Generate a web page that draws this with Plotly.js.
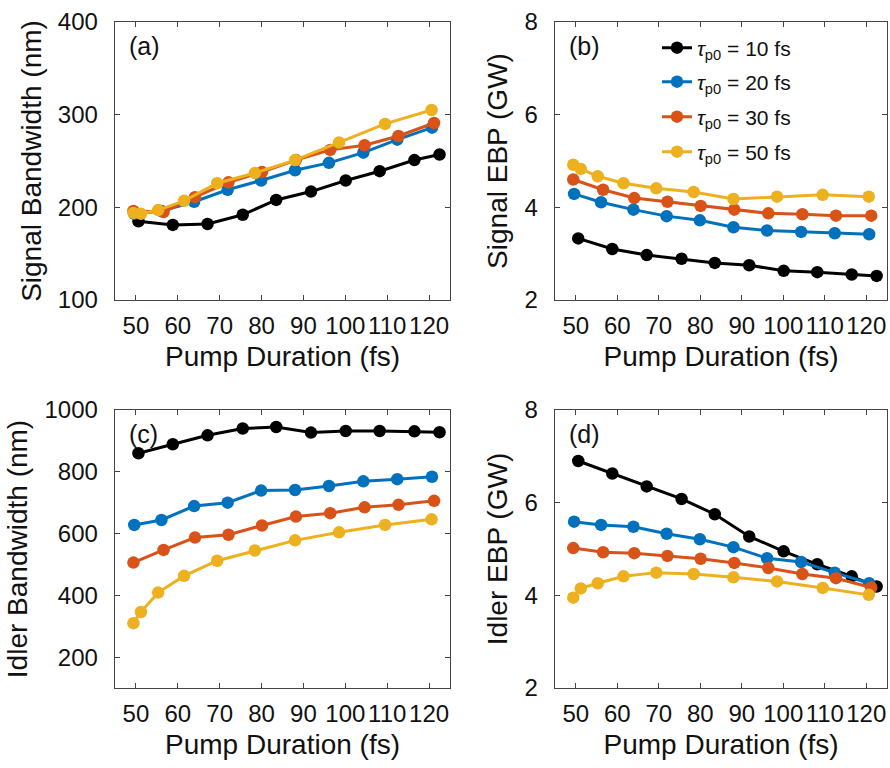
<!DOCTYPE html>
<html>
<head>
<meta charset="utf-8">
<script src="https://cdn.plot.ly/plotly-3.0.1.min.js"></script>
<style>html,body{margin:0;padding:0;background:#fff;}#chart{width:890px;height:768px;}</style>
</head>
<body>
<div id="chart"></div>
<script>
// Pump duration (fs) sample positions for each series
const xTau10 = [50.6, 58.8, 67.1, 75.5, 83.5, 91.8, 100.1, 108.2, 116.5, 122.5];
const xTau20 = [49.6, 56.1, 63.9, 71.9, 79.9, 88.0, 96.1, 104.3, 112.4, 120.7];
const xTau30 = [49.4, 56.6, 64.1, 72.1, 80.1, 88.2, 96.4, 104.6, 112.7, 121.2];
const xTau50 = [49.4, 51.2, 55.3, 61.5, 69.4, 78.4, 88.0, 98.5, 109.5, 120.6];

// (a) Signal bandwidth (nm)
const sigBW10 = [185, 181, 182, 192, 208, 217, 229, 239, 251, 257];
const sigBW20 = [193, 196, 206, 219, 229, 240, 248, 259, 273, 286];
const sigBW30 = [196, 195, 211, 227, 238, 251, 262, 267, 277, 291];
const sigBW50 = [194, 193, 197, 207, 226, 237, 251, 270, 290, 305];

// (b) Signal EBP (GW)
const sigEBP10 = [3.33, 3.10, 2.97, 2.89, 2.80, 2.75, 2.63, 2.60, 2.55, 2.52];
const sigEBP20 = [4.29, 4.11, 3.95, 3.81, 3.72, 3.57, 3.50, 3.47, 3.44, 3.42];
const sigEBP30 = [4.60, 4.38, 4.20, 4.12, 4.03, 3.95, 3.87, 3.85, 3.82, 3.82];
const sigEBP50 = [4.92, 4.83, 4.67, 4.52, 4.41, 4.33, 4.18, 4.23, 4.27, 4.23];

// (c) Idler bandwidth (nm)
const idlBW10 = [860, 889, 918, 940, 945, 927, 932, 932, 931, 928];
const idlBW20 = [628, 644, 689, 700, 739, 741, 754, 769, 776, 784];
const idlBW30 = [506, 547, 587, 596, 626, 655, 666, 685, 693, 706];
const idlBW50 = [310, 346, 409, 463, 512, 545, 578, 604, 628, 646];

// (d) Idler EBP (GW)
const idlEBP10 = [6.90, 6.63, 6.35, 6.08, 5.75, 5.27, 4.95, 4.67, 4.41, 4.19];
const idlEBP20 = [5.59, 5.52, 5.48, 5.33, 5.21, 5.04, 4.80, 4.72, 4.49, 4.26];
const idlEBP30 = [5.02, 4.93, 4.91, 4.85, 4.79, 4.70, 4.59, 4.46, 4.37, 4.17];
const idlEBP50 = [3.95, 4.15, 4.26, 4.41, 4.49, 4.46, 4.39, 4.30, 4.16, 4.01];

const seriesNames = ['<i>τ</i><sub>p0</sub> = 10 fs', '<i>τ</i><sub>p0</sub> = 20 fs', '<i>τ</i><sub>p0</sub> = 30 fs', '<i>τ</i><sub>p0</sub> = 50 fs'];
const xTicks = [50, 60, 70, 80, 90, 100, 110, 120];

const colors = ['#000000', '#0072BD', '#D95319', '#EDB120'];
const legendIds = ['legend', 'legend2', 'legend3', 'legend4'];
const xs = [xTau10, xTau20, xTau30, xTau50];
const panels = [
  {ys: [sigBW10, sigBW20, sigBW30, sigBW50], xa: 'x', ya: 'y', legend: false},
  {ys: [sigEBP10, sigEBP20, sigEBP30, sigEBP50], xa: 'x2', ya: 'y2', legend: true},
  {ys: [idlBW10, idlBW20, idlBW30, idlBW50], xa: 'x3', ya: 'y3', legend: false},
  {ys: [idlEBP10, idlEBP20, idlEBP30, idlEBP50], xa: 'x4', ya: 'y4', legend: false}
];

const traces = [];
panels.forEach(p => {
  for (let i = 0; i < 4; i++) {
    traces.push({
      type: 'scatter', mode: 'lines+markers',
      x: xs[i], y: p.ys[i], xaxis: p.xa, yaxis: p.ya,
      name: seriesNames[i], showlegend: p.legend, legend: legendIds[i],
      line: {color: colors[i], width: 3},
      marker: {color: colors[i], size: 12.5, symbol: 'circle'}
    });
  }
});

const FONT = 'Liberation Sans, Arial, sans-serif';
function xax(domain, anchor) {
  return {
    domain: domain, anchor: anchor, range: [45, 125],
    tickvals: xTicks, ticktext: xTicks.map(String), tickangle: 0,
    ticks: 'inside', ticklen: 5, tickwidth: 1, tickcolor: '#444',
    showline: true, mirror: 'ticks', linecolor: '#444', linewidth: 1.3,
    showgrid: false, zeroline: false, automargin: false,
    tickfont: {family: FONT, size: 24, color: '#111'},
    ticklabelstandoff: 4,
    title: {text: 'Pump Duration (fs)', font: {family: FONT, size: 28, color: '#111'}, standoff: 8}
  };
}
function yax(domain, anchor, range, ticks, title) {
  return {
    domain: domain, anchor: anchor, range: range,
    tickvals: ticks, ticktext: ticks.map(String), tickangle: 0,
    ticks: 'inside', ticklen: 5, tickwidth: 1, tickcolor: '#444',
    showline: true, mirror: 'ticks', linecolor: '#444', linewidth: 1.3,
    showgrid: false, zeroline: false, automargin: false,
    tickfont: {family: FONT, size: 24, color: '#111'},
    ticklabelstandoff: 11,
    title: {text: title, font: {family: FONT, size: 28, color: '#111'}, standoff: 8}
  };
}

const W = 890, H = 768;
const dxL = [115 / W, 450 / W], dxR = [555 / W, 887 / W];
const dyT = [1 - 300 / H, 1 - 22 / H], dyB = [1 - 688 / H, 1 - 410 / H];

const labels = [['(a)', 'x', 'y'], ['(b)', 'x2', 'y2'], ['(c)', 'x3', 'y3'], ['(d)', 'x4', 'y4']];
const legendRowsY = [48, 82, 117, 152];

const layout = {
  width: W, height: H,
  margin: {l: 0, r: 0, t: 0, b: 0},
  paper_bgcolor: '#fff', plot_bgcolor: '#fff',
  font: {family: FONT, color: '#111'},
  xaxis: xax(dxL, 'y'),
  yaxis: yax(dyT, 'x', [100, 400], [100, 200, 300, 400], 'Signal Bandwidth (nm)'),
  xaxis2: xax(dxR, 'y2'),
  yaxis2: yax(dyT, 'x2', [2, 8], [2, 4, 6, 8], 'Signal EBP (GW)'),
  xaxis3: xax(dxL, 'y3'),
  yaxis3: yax(dyB, 'x3', [100, 1000], [200, 400, 600, 800, 1000], 'Idler Bandwidth (nm)'),
  xaxis4: xax(dxR, 'y4'),
  yaxis4: yax(dyB, 'x4', [2, 8], [2, 4, 6, 8], 'Idler EBP (GW)'),
  showlegend: true,
  annotations: labels.map(l => ({
    text: l[0], xref: l[1] + ' domain', yref: l[2] + ' domain',
    x: 0.035, y: 0.915, xanchor: 'left', yanchor: 'middle', showarrow: false,
    font: {family: FONT, size: 25, color: '#111'}
  }))
};
legendIds.forEach((id, i) => {
  layout[id] = {
    x: 657 / W, y: 1 - legendRowsY[i] / H, xanchor: 'left', yanchor: 'middle',
    bgcolor: 'rgba(0,0,0,0)', borderwidth: 0,
    font: {family: FONT, size: 21, color: '#111'}
  };
});

Plotly.newPlot('chart', traces, layout, {displayModeBar: false, staticPlot: true});
</script>
</body>
</html>
